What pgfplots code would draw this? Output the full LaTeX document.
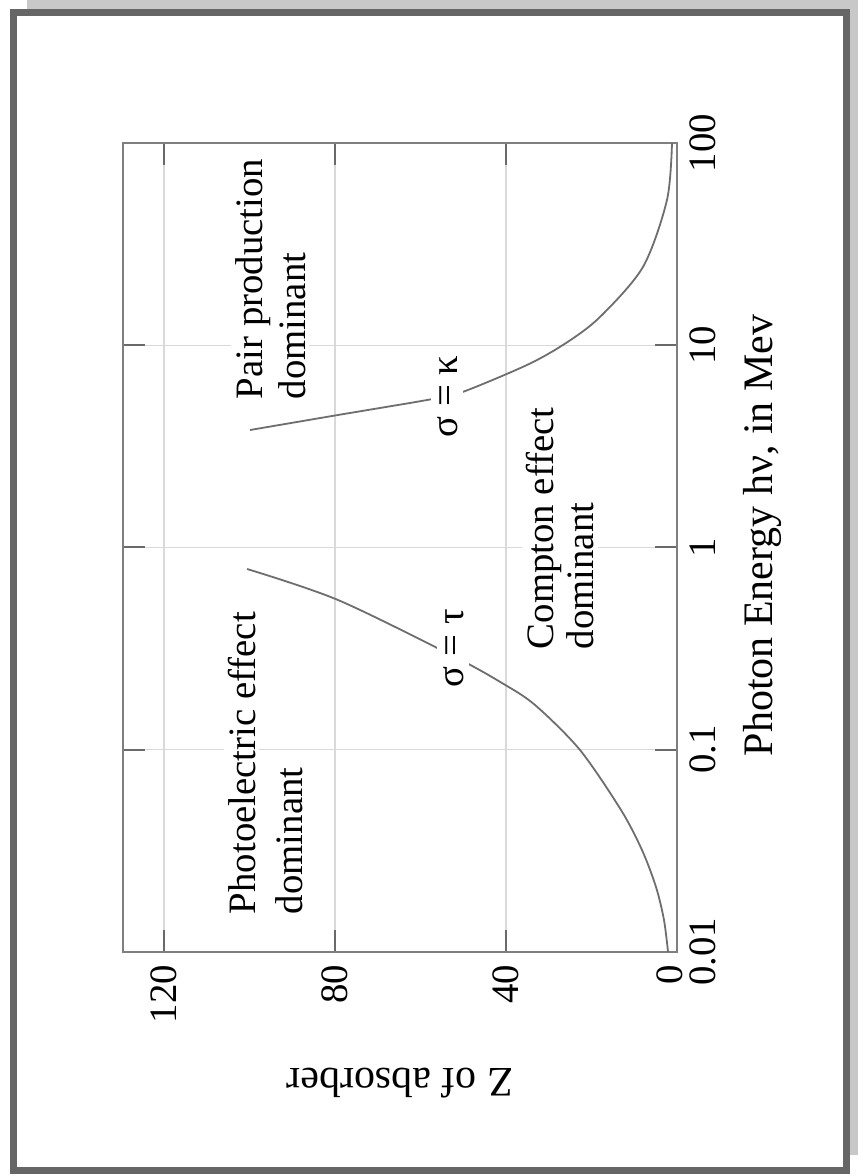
\documentclass[border=0pt]{standalone}
\usepackage{fontspec}
\setmainfont{Liberation Serif}
\usepackage{pgfplots}
\pgfplotsset{compat=1.18}
\definecolor{framedark}{HTML}{666666}
\definecolor{shadowgray}{HTML}{C8C8C8}
\definecolor{axisgray}{HTML}{7F7F7F}
\definecolor{tickgray}{HTML}{6A6A6A}
\definecolor{gridgray}{HTML}{D9D9D9}
\definecolor{curvegray}{HTML}{6E6E6E}
\newcommand{\ticklabfont}{\fontsize{9.7}{11.6}\selectfont}
\newcommand{\annotfont}{\fontsize{9.7}{11.6}\selectfont}
\newcommand{\labfont}{\fontsize{10.5}{12.6}\selectfont}
\begin{document}
\begin{tikzpicture}
\useasboundingbox (0,0) rectangle (214.5pt,294pt);
\fill[shadowgray] (6.75pt,5.25pt) rectangle (214.5pt,294pt);
\draw[framedark, line width=1.75pt, fill=white] (3.375pt,1.375pt) rectangle (211.625pt,290.875pt);
\begin{axis}[
  at={(30.75pt,56pt)}, anchor=south west,
  scale only axis, width=138.5pt, height=202.25pt,
  xmin=0, xmax=129.6, x dir=reverse,
  ymode=log, ymin=0.01, ymax=100,
  xtick={0,40,80,120}, xticklabels={\raisebox{1.75pt}[\height][\depth]{0},40,80,120},
  ytick={0.01,0.1,1,10,100}, yticklabels={0.01,0.1,1,10,100},
  minor tick length=0pt,
  grid=major, major grid style={gridgray, line width=0.35pt},
  tick align=inside, major tick length=5.5pt,
  tick style={tickgray, line width=0.5pt},
  axis line style={axisgray, line width=0.6pt},
  yticklabel pos=right,
  xticklabel style={rotate=90, anchor=east, inner sep=3pt, font=\ticklabfont},
  yticklabel style={rotate=90, anchor=north, inner sep=3pt, font=\ticklabfont},
  every axis x label/.style={at={(axis description cs:0.5,-0.1434)}, anchor=base, rotate=180, font=\labfont},
  every axis y label/.style={at={(axis description cs:1.173,0.515)}, anchor=base, rotate=90, font=\labfont},
  xlabel={Z of absorber},
  ylabel={Photon Energy hν, in Mev},
]
% sigma = tau (photoelectric / Compton boundary)
\addplot[curvegray, line width=0.45pt, smooth, no marks] coordinates {
  (2.1,0.0100) (3.04,0.01439) (4.91,0.02096) (8.19,0.03194) (13.10,0.05037)
  (22.69,0.09972) (33.22,0.1665) (40.94,0.2138) (51.93,0.2875)
  (79.30,0.5501) (100.58,0.7831)
};
% sigma = kappa (Compton / pair production boundary)
\addplot[curvegray, line width=0.45pt, smooth, no marks] coordinates {
  (1.17,100) (2.34,52.3) (7.95,24.4) (18.01,13.8) (25.96,10.26) (35.09,7.99)
  (50.76,5.81) (58.48,5.36) (79.30,4.52) (99.88,3.81)
};
\node[rotate=90, anchor=base west, fill=white, inner sep=1pt, font=\annotfont] at (axis cs:98.71,0.01457) {Photoelectric effect};
\node[rotate=90, anchor=base west, fill=white, inner sep=1pt, font=\annotfont] at (axis cs:87.72,0.01457) {dominant};
\node[rotate=90, anchor=base west, fill=white, inner sep=1pt, font=\annotfont] at (axis cs:97.08,5.124) {Pair production};
\node[rotate=90, anchor=base west, fill=white, inner sep=1pt, font=\annotfont] at (axis cs:87.02,5.124) {dominant};
\node[rotate=90, anchor=base west, fill=white, inner sep=1pt, font=\annotfont] at (axis cs:29.0,0.2974) {Compton effect};
\node[rotate=90, anchor=base west, fill=white, inner sep=1pt, font=\annotfont] at (axis cs:19.5,0.2974) {dominant};
\node[rotate=90, anchor=base west, fill=white, inner sep=1.5pt, font=\annotfont] at (axis cs:50.06,0.1887) {σ = τ};
\node[rotate=90, anchor=base west, fill=white, inner sep=1.5pt, font=\annotfont] at (axis cs:51.46,3.249) {σ = κ};
\end{axis}
\end{tikzpicture}
\end{document}
